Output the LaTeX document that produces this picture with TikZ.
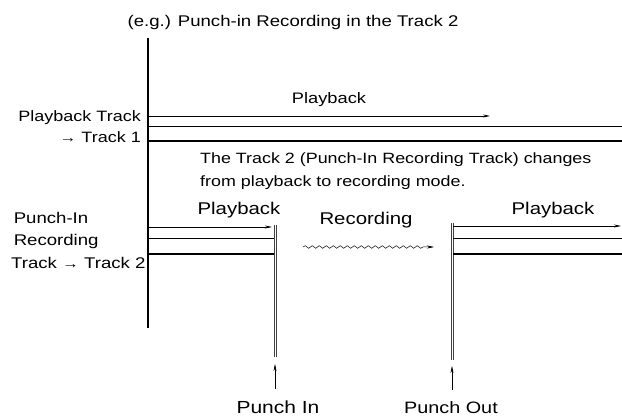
\documentclass[tikz,border=0pt]{standalone}
\usepackage{fontspec}
\setmainfont{Liberation Sans}[FakeStretch=1.2]
\usetikzlibrary{positioning, arrows.meta, decorations.pathmorphing}
\newcommand{\toarrow}{{\fontsize{14}{14}\selectfont\textrightarrow}}

\begin{document}
\begin{tikzpicture}[x=1pt, y=-1pt,
    every node/.style={inner sep=0pt},
    lbl/.style={font=\fontsize{#1}{22.5}\selectfont},
    track/.style={line width=0.7pt},
    heavytrack/.style={line width=1.4pt},
    punchline/.style={line width=0.6pt, black!75},
    wave/.style={decorate, decoration={snake, amplitude=1.3pt, segment length=7pt, post length=9pt}},
    >={Stealth[length=7pt, width=3pt]},
  ]
  \useasboundingbox (0,0) rectangle (622,417);

  \node[lbl=15.5] (title) at (293,22) {(e.g.) Punch-in Recording in the Track 2};

  % time axis
  \coordinate (axtop) at (148,38);
  \coordinate (axbot) at (148,328);
  \draw[line width=1.6pt] (axtop) -- (axbot);

  % track 1
  \node[lbl=15, anchor=east] (pbtrack) at (141,118) {Playback Track};
  \node[lbl=15, anchor=east] (trackone) at (141,137) {\toarrow\ Track 1};
  \node[lbl=15.2] (pbtop) at (329,100) {Playback};
  \coordinate (t1start) at (149,116);
  \coordinate (t1end) at (490,116);
  \coordinate (t1midA) at (149,126);
  \coordinate (t1midB) at (622,126);
  \coordinate (t1lowA) at (149,141);
  \coordinate (t1lowB) at (622,141);
  \draw[track, ->] (t1start) -- (t1end);
  \draw[track] (t1midA) -- (t1midB);
  \draw[heavytrack] (t1lowA) -- (t1lowB);

  \node[anchor=west, align=left, font=\fontsize{14.9}{23}\selectfont] (note) at (200,171)
    {The Track 2 (Punch-In Recording Track) changes\\from playback to recording mode.};

  % track 2
  \node[lbl=15.5, anchor=west, align=left] (pitrack) at (11,240)
    {\,Punch-In\\\,Recording\\Track \toarrow\ Track 2};
  \node[lbl=17] (pbleft) at (239,210) {Playback};
  \node[lbl=17] (rec) at (366,220) {Recording};
  \node[lbl=17] (pbright) at (553,210) {Playback};

  \coordinate (pintop) at (275,225);
  \coordinate (pinbot) at (275,357);
  \coordinate (pouttop) at (452,223);
  \coordinate (poutbot) at (452,360);
  \draw[punchline] ([xshift=-1pt]pintop) -- ([xshift=-1pt]pinbot);
  \draw[punchline] ([xshift=1pt]pintop) -- ([xshift=1pt]pinbot);
  \draw[punchline] ([xshift=-1pt]pouttop) -- ([xshift=-1pt]poutbot);
  \draw[punchline] ([xshift=1pt]pouttop) -- ([xshift=1pt]poutbot);

  \coordinate (l1a) at (149,227); \coordinate (l1b) at (272,227);
  \coordinate (l2a) at (149,238); \coordinate (l2b) at (274,238);
  \coordinate (l3a) at (149,254); \coordinate (l3b) at (274,254);
  \draw[track, ->] (l1a) -- (l1b);
  \draw[track] (l2a) -- (l2b);
  \draw[heavytrack] (l3a) -- (l3b);

  \coordinate (wavea) at (303,247);
  \coordinate (waveb) at (434,247);
  \draw[line width=0.5pt, wave, ->] (wavea) -- (waveb);

  \coordinate (r1a) at (453,226); \coordinate (r1b) at (621,226);
  \coordinate (r2a) at (453,238); \coordinate (r2b) at (622,238);
  \coordinate (r3a) at (453,254); \coordinate (r3b) at (622,254);
  \draw[track, ->] (r1a) -- (r1b);
  \draw[track] (r2a) -- (r2b);
  \draw[heavytrack] (r3a) -- (r3b);

  % punch markers
  \node[lbl=17.5] (pin) at (278,407) {Punch In};
  \node[lbl=16.5] (pout) at (451,408) {Punch Out};
  \coordinate (pinfoot) at (275,389);
  \coordinate (pinhead) at (275,364);
  \coordinate (poutfoot) at (452,390);
  \coordinate (pouthead) at (452,366);
  \draw[line width=0.5pt, ->] (pinfoot) -- (pinhead);
  \draw[line width=0.5pt, ->] (poutfoot) -- (pouthead);
\end{tikzpicture}
\end{document}
